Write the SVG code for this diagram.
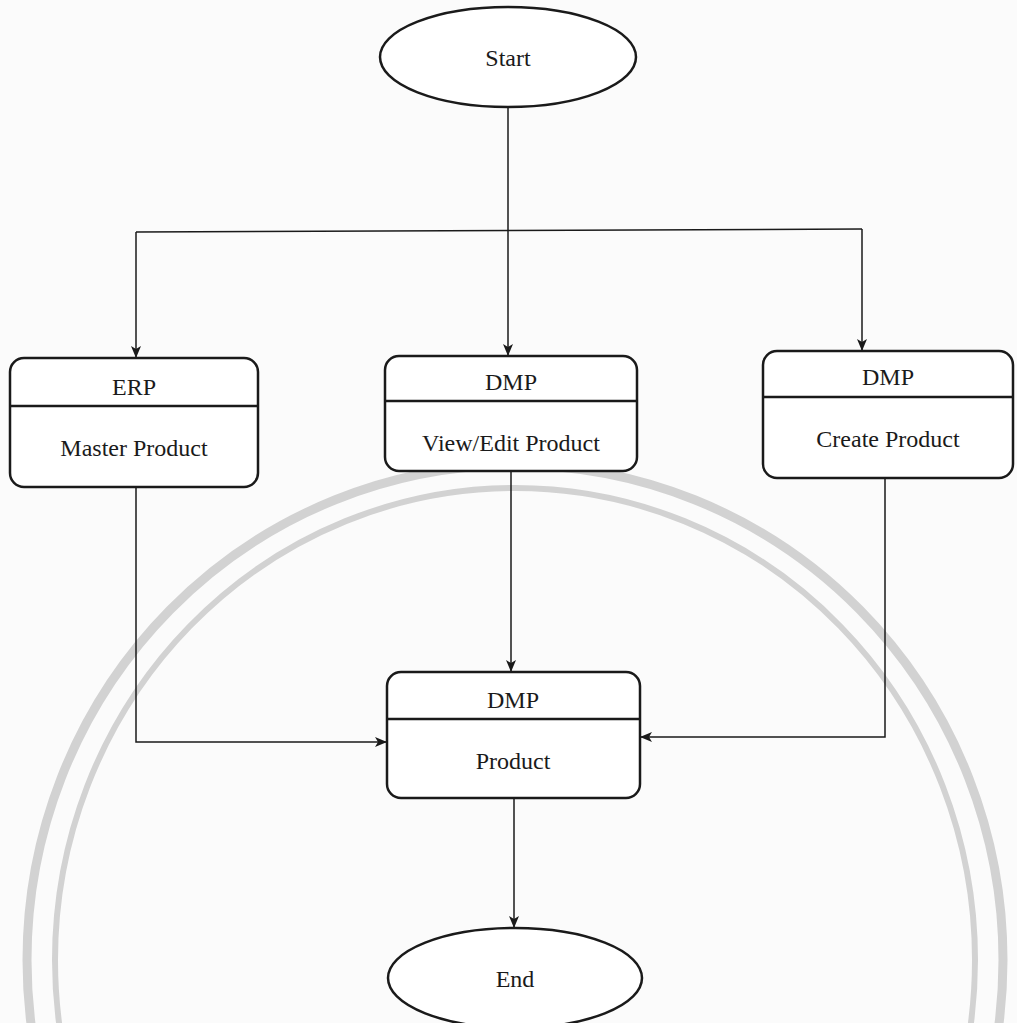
<svg xmlns="http://www.w3.org/2000/svg" width="1017" height="1023" viewBox="0 0 1017 1023">
<style>
.node{fill:#fff;stroke:#1a1a1a;stroke-width:2.5}
.div{stroke:#1a1a1a;stroke-width:2.5}
.lbl{font-family:"Liberation Serif","Times New Roman",serif;font-size:24px;fill:#1a1a1a;text-anchor:middle}
.conn{fill:none;stroke:#1a1a1a;stroke-width:1.5}
.wm{fill:none;stroke:#d2d2d2}
</style>
<defs>
<marker id="arr" viewBox="0 0 12 10" refX="11" refY="5" markerWidth="12" markerHeight="10" markerUnits="userSpaceOnUse" orient="auto">
<path d="M0,0 L12,5 L0,10 L3,5 Z" fill="#1a1a1a"/>
</marker>
</defs>
<rect width="1017" height="1023" fill="#fbfbfb"/>
<g id="watermark">
<ellipse class="wm" cx="515" cy="960" rx="488" ry="495" stroke-width="9"/>
<ellipse class="wm" cx="515" cy="960" rx="460" ry="472" stroke-width="6"/>
</g>
<g id="connectors">
<path class="conn" d="M508,107 V230"/>
<path class="conn" d="M136,232 L862,229"/>
<path class="conn" d="M136,232 V357" marker-end="url(#arr)"/>
<path class="conn" d="M508,230 V355" marker-end="url(#arr)"/>
<path class="conn" d="M862,229 V350" marker-end="url(#arr)"/>
<path class="conn" d="M136,487 V742 H386" marker-end="url(#arr)"/>
<path class="conn" d="M511,470 V671" marker-end="url(#arr)"/>
<path class="conn" d="M885,478 V737 H641" marker-end="url(#arr)"/>
<path class="conn" d="M514,798 V927" marker-end="url(#arr)"/>
</g>
<g id="start">
<ellipse class="node" cx="508" cy="57" rx="128" ry="50"/>
<text class="lbl" x="508" y="66">Start</text>
</g>
<g id="erp-master">
<rect class="node" x="10" y="358" width="248" height="129" rx="14"/>
<line class="div" x1="10" y1="406" x2="258" y2="406"/>
<text class="lbl" x="134" y="395">ERP</text>
<text class="lbl" x="134" y="456">Master Product</text>
</g>
<g id="dmp-view">
<rect class="node" x="385" y="356" width="252" height="115" rx="14"/>
<line class="div" x1="385" y1="401" x2="637" y2="401"/>
<text class="lbl" x="511" y="390">DMP</text>
<text class="lbl" x="511" y="451">View/Edit Product</text>
</g>
<g id="dmp-create">
<rect class="node" x="763" y="351" width="250" height="127" rx="14"/>
<line class="div" x1="763" y1="397" x2="1013" y2="397"/>
<text class="lbl" x="888" y="385">DMP</text>
<text class="lbl" x="888" y="447">Create Product</text>
</g>
<g id="dmp-product">
<rect class="node" x="387" y="672" width="253" height="126" rx="14"/>
<line class="div" x1="387" y1="719" x2="640" y2="719"/>
<text class="lbl" x="513" y="708">DMP</text>
<text class="lbl" x="513" y="769">Product</text>
</g>
<g id="end">
<ellipse class="node" cx="515" cy="978" rx="127" ry="50"/>
<text class="lbl" x="515" y="987">End</text>
</g>
</svg>
